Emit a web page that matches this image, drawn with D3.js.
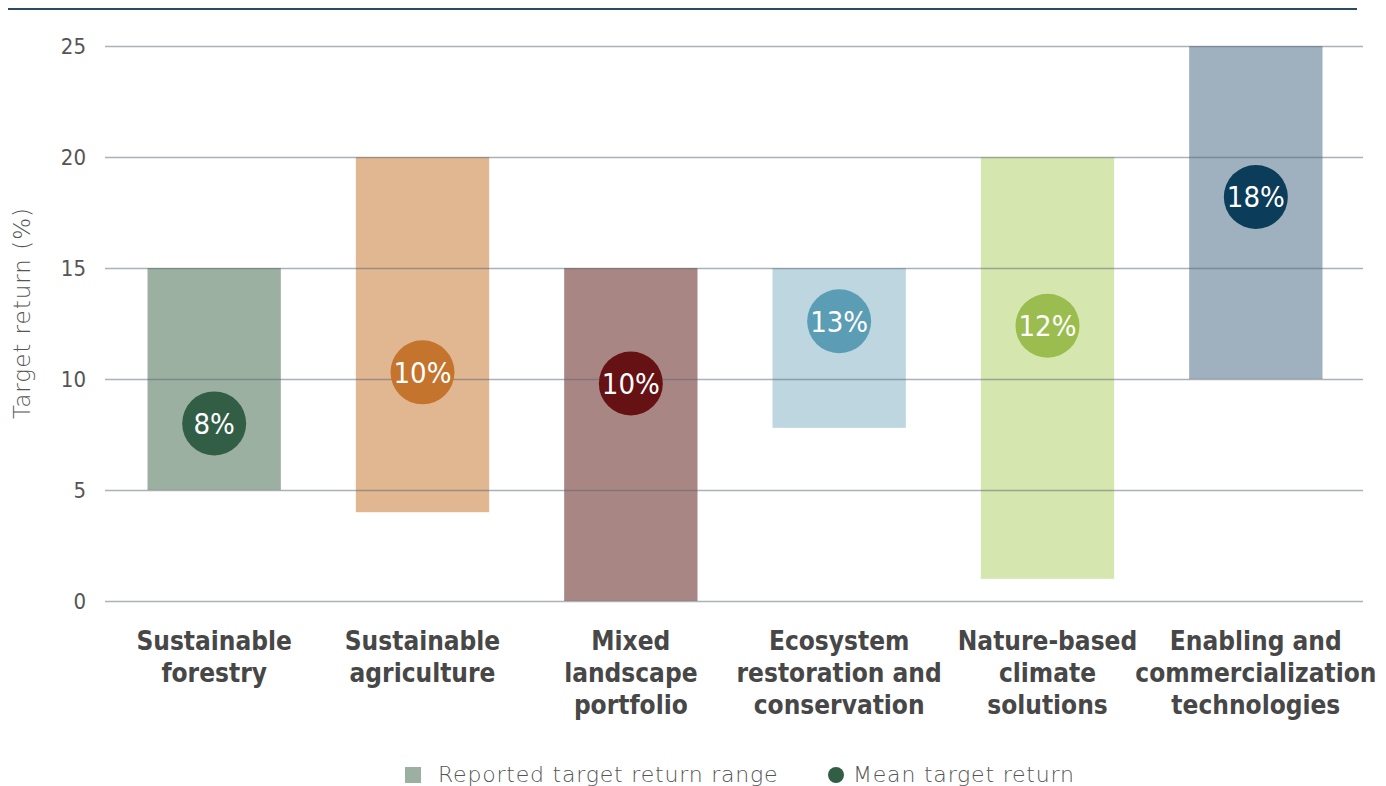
<!DOCTYPE html>
<html>
<head>
<meta charset="utf-8">
<script src="https://cdn.jsdelivr.net/npm/d3@7"></script>
<style>
  body { margin: 0; background: #fff; }
  svg { display: block; }
  .narrow { font-family: 'DejaVu Sans', sans-serif; font-stretch: condensed; }
</style>
</head>
<body>
<script>

var Width = 1386;
var Height = 786;

// data
var categories = [
  ["Sustainable", "forestry"],
  ["Sustainable", "agriculture"],
  ["Mixed", "landscape", "portfolio"],
  ["Ecosystem", "restoration and", "conservation"],
  ["Nature-based", "climate", "solutions"],
  ["Enabling and", "commercialization", "technologies"]
];
var lows  = [5, 4, 0, 7.8, 1, 10];
var highs = [15, 20, 15, 15, 20, 25];
var means = [8, 10.3, 9.8, 12.6, 12.4, 18.2];
var meanLabels = ["8%", "10%", "10%", "13%", "12%", "18%"];
var yTicks = [0, 5, 10, 15, 20, 25];

var barColors = ["#9bb0a1", "#e0b791", "#a88683", "#bdd6e0", "#d6e6af", "#9fb1bf"];
var dotColors = ["#335e46", "#c4742c", "#661214", "#5b9db5", "#9bbd4f", "#0b3c5a"];

var legendLabels = ["Reported target return range", "Mean target return"];


function main () {

  var svg = d3.select("body")
    .append("svg")
    .attr("width", Width)
    .attr("height", Height);

  var xScale = d3.scaleBand()
    .domain(d3.range(categories.length))
    .range([110, 1360])
    .paddingInner(0.36)
    .paddingOuter(0.18);

  var yScale = d3.scaleLinear()
    .domain([0, 25])
    .range([601, 46]);

  // top rule
  svg.append("line")
    .attr("x1", 8).attr("x2", 1357)
    .attr("y1", 9).attr("y2", 9)
    .attr("stroke", "#2b4a66")
    .attr("stroke-width", 2.2);

  // range bars
  svg.selectAll("rect.range")
    .data(d3.range(categories.length))
    .enter()
    .append("rect")
    .attr("class", "range")
    .attr("x", function(i) { return xScale(i); })
    .attr("y", function(i) { return yScale(highs[i]); })
    .attr("width", xScale.bandwidth())
    .attr("height", function(i) { return yScale(lows[i]) - yScale(highs[i]); })
    .attr("fill", function(i) { return barColors[i]; });

  // y axis + grid
  var yAxis = d3.axisLeft(yScale)
    .tickValues(yTicks)
    .tickSize(-(1363 - 105))
    .tickPadding(19);

  var gy = svg.append("g")
    .attr("transform", "translate(105,0)")
    .call(yAxis);
  gy.select(".domain").remove();
  gy.selectAll(".tick line")
    .attr("stroke", "#5a6470")
    .attr("stroke-opacity", 0.5)
    .attr("stroke-width", 1.5);
  gy.selectAll(".tick text")
    .attr("class", "narrow")
    .attr("fill", "#555")
    .style("font-family", null)
    .style("font-size", "22px");

  svg.append("text")
    .attr("transform", "translate(30,313) rotate(-90)")
    .attr("text-anchor", "middle")
    .attr("fill", "#555")
    .style("font-family", "'DejaVu Sans', sans-serif")
    .style("font-weight", 200)
    .style("font-size", "23px")
    .style("letter-spacing", "1px")
    .text("Target return (%)");

  // mean dots
  var dots = svg.selectAll("g.mean")
    .data(d3.range(categories.length))
    .enter()
    .append("g")
    .attr("class", "mean")
    .attr("transform", function(i) {
      return "translate(" + (xScale(i) + xScale.bandwidth() / 2) + "," + yScale(means[i]) + ")";
    });
  dots.append("circle")
    .attr("r", 32)
    .attr("fill", function(i) { return dotColors[i]; });
  dots.append("text")
    .attr("class", "narrow")
    .attr("text-anchor", "middle")
    .attr("dy", "0.36em")
    .attr("fill", "#fff")
    .style("font-size", "29px")
    .text(function(i) { return meanLabels[i]; });

  // category labels
  var labels = svg.selectAll("text.cat")
    .data(d3.range(categories.length))
    .enter()
    .append("text")
    .attr("class", "cat narrow")
    .attr("text-anchor", "middle")
    .attr("fill", "#474747")
    .style("font-weight", "bold")
    .style("font-size", "26px");
  labels.each(function(i) {
    var t = d3.select(this);
    categories[i].forEach(function(line, k) {
      t.append("tspan")
        .attr("x", xScale(i) + xScale.bandwidth() / 2)
        .attr("y", 650 + k * 32)
        .text(line);
    });
  });

  // legend
  var legend = svg.append("g")
    .style("font-family", "'DejaVu Sans', sans-serif")
    .style("font-weight", 200)
    .style("font-size", "22px")
    .style("letter-spacing", "0.8px")
    .attr("fill", "#555");
  legend.append("rect")
    .attr("x", 405).attr("y", 767)
    .attr("width", 16).attr("height", 16)
    .attr("fill", barColors[0]);
  legend.append("text")
    .attr("x", 438).attr("y", 782)
    .text(legendLabels[0]);
  legend.append("circle")
    .attr("cx", 836).attr("cy", 775)
    .attr("r", 8)
    .attr("fill", dotColors[0]);
  legend.append("text")
    .attr("x", 853).attr("y", 782)
    .text(legendLabels[1]);
}

main();
</script>
</body>
</html>
